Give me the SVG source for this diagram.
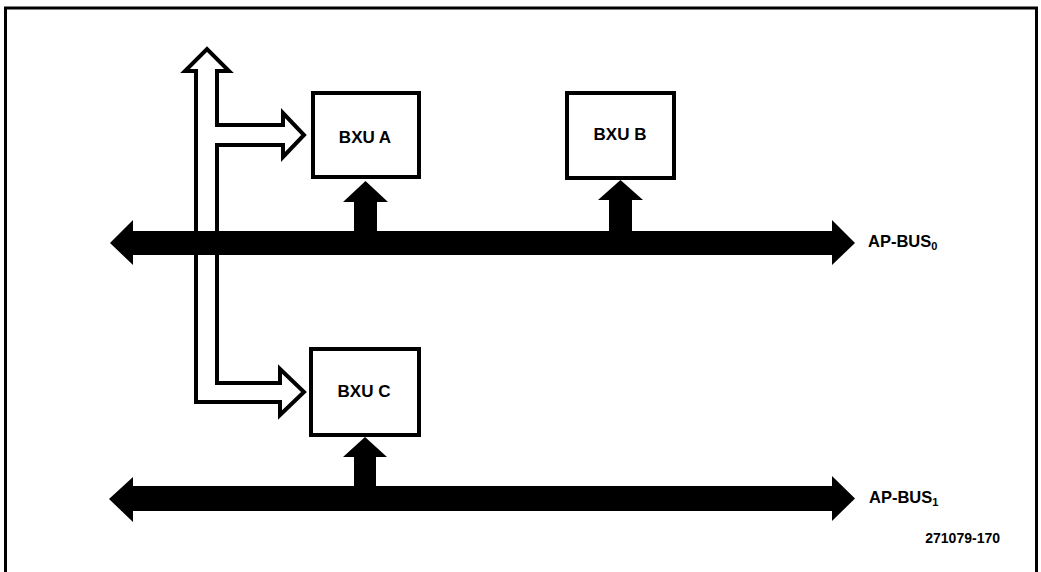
<svg xmlns="http://www.w3.org/2000/svg" width="1041" height="572" viewBox="0 0 1041 572">
<style>
.box{fill:#fff;stroke:#000;stroke-width:4}
.bus{fill:#000}
.hollow{fill:#fff;stroke:#000;stroke-width:4;stroke-linejoin:miter}
.lbl{font-family:"Liberation Sans",Arial,sans-serif;font-weight:bold;fill:#000}
</style>
<rect x="0" y="0" width="1041" height="572" fill="#fff"/>
<rect x="5.5" y="8" width="1031" height="572" fill="none" stroke="#000" stroke-width="3"/>
<g id="connectors">
  <path id="hollow-arrow" class="hollow" d="M217,125 L283,125 L283,113 L304,135 L283,157 L283,145 L217,145 L217,383 L280,383 L280,369 L304,392 L280,415 L280,402 L196,402 L196,71 L185,71 L207,49 L229,71 L217,71 Z"/>
  <polygon id="ap-bus0" class="bus" points="110,243 133,220 133,231 832,231 832,220 855,243 832,265 832,255 133,255 133,265"/>
  <polygon id="ap-bus1" class="bus" points="109,499 133,477 133,486 832,486 832,476 855,498.5 832,521 832,511 133,511 133,522"/>
  <polygon id="a-up" class="bus" points="365.5,181 388,202 377,202 377,232 354,232 354,202 343,202"/>
  <polygon id="b-up" class="bus" points="620.5,180 643,200 632,200 632,232 609,232 609,200 598,200"/>
  <polygon id="c-up" class="bus" points="365,437 387,457 376,457 376,487 354,487 354,457 343,457"/>
</g>
<g id="bxu-a">
  <rect class="box" x="313" y="93" width="106" height="84"/>
  <text class="lbl" x="365" y="143" font-size="17" text-anchor="middle">BXU A</text>
</g>
<g id="bxu-b">
  <rect class="box" x="567" y="93" width="107" height="85"/>
  <text class="lbl" x="620" y="139.5" font-size="17" text-anchor="middle">BXU B</text>
</g>
<g id="bxu-c">
  <rect class="box" x="311" y="349" width="108" height="86"/>
  <text class="lbl" x="364" y="397" font-size="17" text-anchor="middle">BXU C</text>
</g>
<g id="label-bus0">
  <text class="lbl" x="868" y="247" font-size="16.5">AP-BUS<tspan font-size="11" dy="3">0</tspan></text>
</g>
<g id="label-bus1">
  <text class="lbl" x="869" y="503" font-size="16.5">AP-BUS<tspan font-size="11" dy="3">1</tspan></text>
</g>
<g id="fig-number">
  <text class="lbl" x="1000" y="543" font-size="14" text-anchor="end">271079-170</text>
</g>
</svg>
